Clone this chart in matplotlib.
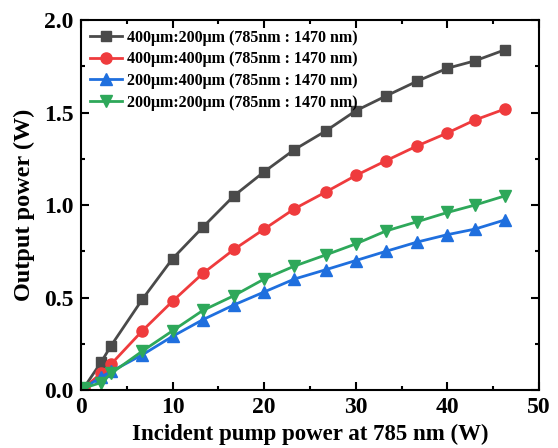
import matplotlib
matplotlib.use("Agg")
import matplotlib.pyplot as plt
from matplotlib.ticker import MultipleLocator

# incident pump power (W)
pump = [0.3, 2.2, 3.3, 6.7, 10.0, 13.3, 16.7, 20.0, 23.3, 26.7, 30.0, 33.3, 36.7, 40.0, 43.0, 46.3]

# output power (W) for each core ratio
p400_200 = [0.01, 0.15, 0.24, 0.49, 0.71, 0.88, 1.05, 1.18, 1.30, 1.40, 1.51, 1.59, 1.67, 1.74, 1.78, 1.84]
p400_400 = [0.01, 0.09, 0.14, 0.32, 0.48, 0.63, 0.76, 0.87, 0.98, 1.07, 1.16, 1.24, 1.32, 1.39, 1.46, 1.52]
p200_400 = [0.01, 0.07, 0.10, 0.19, 0.29, 0.38, 0.46, 0.53, 0.60, 0.65, 0.70, 0.75, 0.80, 0.84, 0.87, 0.92]
p200_200 = [0.01, 0.04, 0.09, 0.21, 0.32, 0.43, 0.51, 0.60, 0.67, 0.73, 0.79, 0.86, 0.91, 0.96, 1.00, 1.05]

labels = ["400\u03bcm:200\u03bcm (785nm : 1470 nm)",
          "400\u03bcm:400\u03bcm (785nm : 1470 nm)",
          "200\u03bcm:400\u03bcm (785nm : 1470 nm)",
          "200\u03bcm:200\u03bcm (785nm : 1470 nm)"]

plt.rcParams['font.family'] = ['Liberation Serif', 'DejaVu Serif']
plt.rcParams['font.weight'] = 'bold'

fig = plt.figure(figsize=(5.58, 4.48), dpi=100)
ax = fig.add_axes([0.145, 0.1295, 0.821, 0.8255])

ax.plot(pump, p400_200, color='#4a4a4a', marker='s', markersize=7, lw=2, label=labels[0])
ax.plot(pump, p400_400, color='#ef3b3d', marker='o', markersize=8, lw=2, label=labels[1])
ax.plot(pump, p200_400, color='#1f6fde', marker='^', markersize=8, lw=2, label=labels[2])
ax.plot(pump, p200_200, color='#2ea85a', marker='v', markersize=8, lw=2, label=labels[3])

ax.set_xlim(0, 50)
ax.set_ylim(0, 2.0)
ax.xaxis.set_major_locator(MultipleLocator(10))
ax.xaxis.set_minor_locator(MultipleLocator(5))
ax.yaxis.set_major_locator(MultipleLocator(0.5))
ax.yaxis.set_minor_locator(MultipleLocator(0.25))
ax.tick_params(which='both', direction='in', top=True, right=True, width=1.5)
ax.tick_params(which='major', length=6, labelsize=17)
ax.tick_params(which='minor', length=3)
ax.tick_params(axis='y', pad=5.5)
ax.tick_params(axis='x', pad=5)
for s in ax.spines.values():
    s.set_linewidth(1.5)
for t in ax.get_xticklabels() + ax.get_yticklabels():
    t.set_fontweight('bold')

ax.set_xlabel("Incident pump power at 785 nm (W)", fontsize=16.5, fontweight='bold', labelpad=4)
ax.set_ylabel("Output power (W)", fontsize=17.5, fontweight='bold', labelpad=6)

ax.legend(loc='upper left', frameon=False, prop={'size': 11.5, 'weight': 'bold'},
          handlelength=2.0, handletextpad=0.3, labelspacing=0.35, borderaxespad=0.2)

fig.savefig("out.png", dpi=100)
